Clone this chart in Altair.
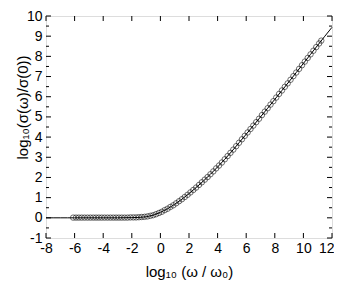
import altair as alt
import pandas as pd

# data circles
x_pts = [-6.1, -5.9, -5.7, -5.5, -5.3, -5.1, -4.9, -4.7, -4.5, -4.3, -4.1, -3.9, -3.7, -3.5,
         -3.3, -3.1, -2.9, -2.7, -2.5, -2.3, -2.1, -1.9, -1.7, -1.5, -1.3, -1.1, -0.9, -0.7,
         -0.5, -0.3, -0.1, 0.1, 0.3, 0.5, 0.7, 0.9, 1.1, 1.3, 1.5, 1.7, 1.9, 2.1, 2.3, 2.5,
         2.7, 2.9, 3.1, 3.3, 3.5, 3.7, 3.9, 4.1, 4.3, 4.5, 4.7, 4.9, 5.1, 5.3, 5.5, 5.7,
         5.9, 6.1, 6.3, 6.5, 6.7, 6.9, 7.1, 7.3, 7.5, 7.7, 7.9, 8.1, 8.3, 8.5, 8.7, 8.9,
         9.1, 9.3, 9.5, 9.7, 9.9, 10.1, 10.3, 10.5, 10.7, 10.9, 11.1, 11.25]
y_pts = [0.01, 0.01, 0.01, 0.01, 0.01, 0.01, 0.01, 0.01, 0.01, 0.01, 0.01, 0.01, 0.01, 0.01,
         0.01, 0.01, 0.01, 0.01, 0.01, 0.01, 0.02, 0.02, 0.02, 0.03, 0.04, 0.05, 0.07, 0.10,
         0.13, 0.18, 0.24, 0.30, 0.38, 0.45, 0.54, 0.62, 0.72, 0.82, 0.92, 1.03, 1.14, 1.26,
         1.38, 1.50, 1.63, 1.76, 1.89, 2.02, 2.16, 2.30, 2.45, 2.59, 2.74, 2.90, 3.06, 3.22,
         3.38, 3.55, 3.72, 3.89, 4.06, 4.23, 4.40, 4.57, 4.74, 4.91, 5.09, 5.26, 5.43, 5.61,
         5.78, 5.96, 6.14, 6.31, 6.49, 6.66, 6.84, 7.02, 7.20, 7.38, 7.56, 7.74, 7.92, 8.10,
         8.28, 8.46, 8.64, 8.78]

# theory line
x_line = [-8, -7.5, -7, -6.5, -6, -5.5, -5, -4.5, -4, -3.5, -3, -2.5, -2, -1.5, -1, -0.5,
          0, 0.5, 1, 1.5, 2, 2.5, 3, 3.5, 4, 4.5, 5, 5.5, 6, 6.5, 7, 7.5, 8, 8.5, 9, 9.5,
          10, 10.5, 11, 11.5, 12]
y_line = [0, 0, 0, 0, 0, 0, 0, 0, 0, 0, 0, 0.005, 0.01, 0.02, 0.05, 0.13,
          0.27, 0.45, 0.67, 0.92, 1.20, 1.50, 1.82, 2.16, 2.52, 2.90, 3.30, 3.72, 4.14, 4.57,
          5.00, 5.43, 5.87, 6.31, 6.75, 7.20, 7.65, 8.10, 8.55, 9.00, 9.44]

x_ticks = [-8, -6, -4, -2, 0, 2, 4, 6, 8, 10, 12]
y_ticks = [-1, 0, 1, 2, 3, 4, 5, 6, 7, 8, 9, 10]
y_minor = [-0.5, 0.5, 1.5, 2.5, 3.5, 4.5, 5.5, 6.5, 7.5, 8.5, 9.5]

XMIN, XMAX, YMIN, YMAX = -8, 12, -1, 10
W, H = 286, 222
px_x = (XMAX - XMIN) / W
px_y = (YMAX - YMIN) / H

FONT = "Liberation Sans"
xs = alt.Scale(domain=[XMIN, XMAX], nice=False, zero=False)
ys = alt.Scale(domain=[YMIN, YMAX], nice=False, zero=False)

pts = pd.DataFrame({"x": x_pts, "y": y_pts})
line = pd.DataFrame({"x": x_line, "y": y_line})

xaxis = alt.Axis(values=x_ticks, ticks=False, domain=False, grid=False, labelFont=FONT,
                 labelFontSize=14, labelColor="black", labelPadding=3,
                 labelOverlap=False, labelFlush=False, labelBound=False,
                 labelExpr="datum.value + ''",
                 labelAlign={"condition": {"test": "datum.value == 12", "value": "right"},
                             "value": "center"},
                 labelOffset={"condition": {"test": "datum.value == 12", "value": 2},
                              "value": 0},
                 title="log₁₀ (ω / ω₀)", titleFont=FONT, titleFontSize=15,
                 titleFontWeight="normal", titleColor="black",
                 titleY=26, titleBaseline="top")
yaxis = alt.Axis(values=y_ticks, ticks=False, domain=False, grid=False, labelFont=FONT,
                 labelFontSize=14, labelColor="black", labelPadding=4,
                 labelOverlap=False, labelFlush=False, labelBound=False,
                 labelExpr="datum.value + ''",
                 title="log₁₀(σ(ω)/σ(0))", titleFont=FONT, titleFontSize=15,
                 titleFontWeight="normal", titleColor="black",
                 titleY=91, titleX=-16, titleBaseline="bottom", titleAngle=270)

X = lambda: alt.X("x:Q", scale=xs, axis=xaxis)
Y = lambda: alt.Y("y:Q", scale=ys, axis=yaxis)

line_layer = alt.Chart(line).mark_line(color="black", strokeWidth=1).encode(x=X(), y=Y())
pt_layer = alt.Chart(pts).mark_point(shape="circle", filled=False, color="black",
                                     size=30, strokeWidth=0.8).encode(x=X(), y=Y())

# inward ticks
bx = pd.DataFrame({"x": x_ticks})
bottom = alt.Chart(bx).mark_rule(color="black", strokeWidth=1).encode(
    x=X(), y=alt.YDatum(YMIN, scale=ys, axis=yaxis), y2=alt.datum(YMIN + 5 * px_y))
top = alt.Chart(bx).mark_rule(color="black", strokeWidth=1).encode(
    x=X(), y=alt.YDatum(YMAX, scale=ys, axis=yaxis), y2=alt.datum(YMAX - 5 * px_y))
by = pd.DataFrame({"y": y_ticks})
bym = pd.DataFrame({"y": y_minor})
left = alt.Chart(by).mark_rule(color="black", strokeWidth=1).encode(
    y=Y(), x=alt.XDatum(XMIN, scale=xs, axis=xaxis), x2=alt.datum(XMIN + 5 * px_x))
right = alt.Chart(by).mark_rule(color="black", strokeWidth=1).encode(
    y=Y(), x=alt.XDatum(XMAX, scale=xs, axis=xaxis), x2=alt.datum(XMAX - 5 * px_x))
leftm = alt.Chart(bym).mark_rule(color="black", strokeWidth=1).encode(
    y=Y(), x=alt.XDatum(XMIN, scale=xs, axis=xaxis), x2=alt.datum(XMIN + 3 * px_x))
rightm = alt.Chart(bym).mark_rule(color="black", strokeWidth=1).encode(
    y=Y(), x=alt.XDatum(XMAX, scale=xs, axis=xaxis), x2=alt.datum(XMAX - 3 * px_x))

chart = alt.layer(line_layer, pt_layer, bottom, top, left, right, leftm, rightm).properties(
    width=W, height=H,
    autosize=alt.AutoSizeParams(type="none"),
    padding={"left": 38, "top": 8, "right": 2, "bottom": 44},
).configure_view(stroke="black", strokeWidth=1.2).configure(background="white")

chart.save("out.html", embed_options={"renderer": "svg", "actions": False})
